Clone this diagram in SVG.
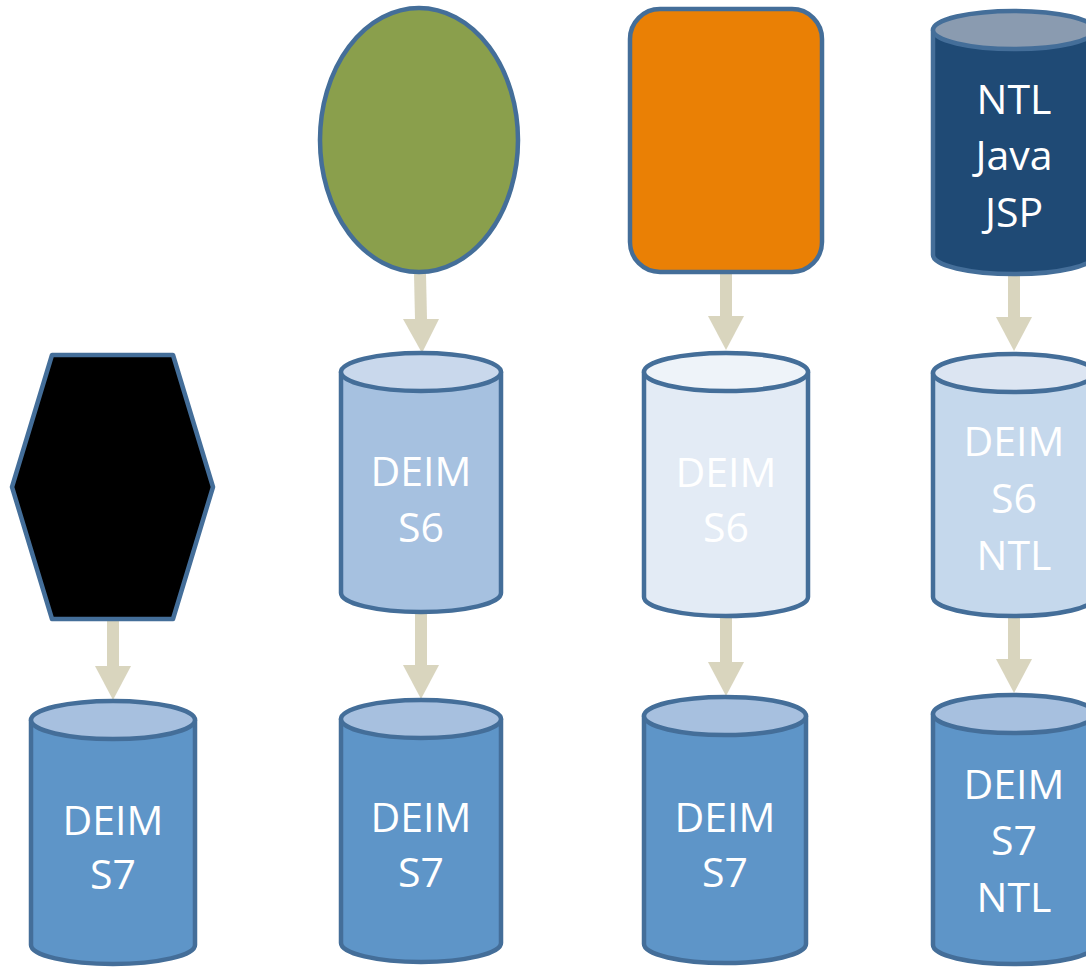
<svg xmlns="http://www.w3.org/2000/svg" width="1086" height="967" viewBox="0 0 1086 967">
  <defs>
    <style>
      .edge { stroke: #446E99; stroke-width: 4.5; stroke-linejoin: round; }
      .lbl { font-family: "Open Sans", "Liberation Sans", sans-serif; font-size: 41px; fill: #FFFFFF; text-anchor: middle; }
      .shaft { stroke: #D9D5BE; stroke-width: 12; fill: none; }
      .head { fill: #D9D5BE; }
    </style>
  </defs>
  <rect width="1086" height="967" fill="#FFFFFF"/>

  <!-- connectors -->
  <g id="connectors">
    <line class="shaft" x1="420" y1="273" x2="421" y2="320"/>
    <polygon class="head" points="403,319 439,319 422,353"/>
    <line class="shaft" x1="726" y1="273" x2="726" y2="317"/>
    <polygon class="head" points="708,316 744,316 726,350"/>
    <line class="shaft" x1="1014" y1="275" x2="1014" y2="318"/>
    <polygon class="head" points="996,317 1032,317 1014,351"/>
    <line class="shaft" x1="113" y1="620" x2="113" y2="667"/>
    <polygon class="head" points="95,666 131,666 113,700"/>
    <line class="shaft" x1="421" y1="613" x2="421" y2="666"/>
    <polygon class="head" points="403,665 439,665 421,699"/>
    <line class="shaft" x1="726" y1="617" x2="726" y2="663"/>
    <polygon class="head" points="708,662 744,662 726,696"/>
    <line class="shaft" x1="1014" y1="617" x2="1014" y2="660"/>
    <polygon class="head" points="996,659 1032,659 1014,693"/>
  </g>

  <!-- column 1 -->
  <g id="hexagon">
    <polygon class="edge" fill="#000000" points="52,355 173,355 213,487 173,619 52,619 12,487"/>
  </g>
  <g id="deim-s7-a">
    <path class="edge" fill="#5E95C8" d="M31,720 L31,945 A82,19 0 0 0 195,945 L195,720 Z"/>
    <ellipse class="edge" fill="#A7C0DF" cx="113" cy="720" rx="82" ry="19"/>
    <text class="lbl" x="113" y="835">DEIM</text>
    <text class="lbl" x="113" y="889">S7</text>
  </g>

  <!-- column 2 -->
  <g id="oval">
    <ellipse class="edge" fill="#8A9F4C" cx="419" cy="140" rx="99" ry="132"/>
  </g>
  <g id="deim-s6-a">
    <path class="edge" fill="#A6C1E0" d="M341,372 L341,593 A80,19 0 0 0 501,593 L501,372 Z"/>
    <ellipse class="edge" fill="#C9D8EC" cx="421" cy="372" rx="80" ry="19"/>
    <text class="lbl" x="421" y="486">DEIM</text>
    <text class="lbl" x="421" y="542">S6</text>
  </g>
  <g id="deim-s7-b">
    <path class="edge" fill="#5E95C8" d="M341,719 L341,943 A80,19 0 0 0 501,943 L501,719 Z"/>
    <ellipse class="edge" fill="#A7C0DF" cx="421" cy="719" rx="80" ry="19"/>
    <text class="lbl" x="421" y="832">DEIM</text>
    <text class="lbl" x="421" y="887">S7</text>
  </g>

  <!-- column 3 -->
  <g id="rounded-box">
    <rect class="edge" fill="#EA8005" x="630" y="9" width="192" height="263" rx="30" ry="30"/>
  </g>
  <g id="deim-s6-b">
    <path class="edge" fill="#E3EBF5" d="M644,372 L644,597 A82,19 0 0 0 808,597 L808,372 Z"/>
    <ellipse class="edge" fill="#EEF3F9" cx="726" cy="372" rx="82" ry="19"/>
    <text class="lbl" x="726" y="487">DEIM</text>
    <text class="lbl" x="726" y="542">S6</text>
  </g>
  <g id="deim-s7-c">
    <path class="edge" fill="#5E95C8" d="M644,716 L644,944 A81,19 0 0 0 806,944 L806,716 Z"/>
    <ellipse class="edge" fill="#A7C0DF" cx="725" cy="716" rx="81" ry="19"/>
    <text class="lbl" x="725" y="832">DEIM</text>
    <text class="lbl" x="725" y="887">S7</text>
  </g>

  <!-- column 4 -->
  <g id="ntl-java-jsp">
    <path class="edge" fill="#1F4A75" d="M933,30 L933,255 A81,19 0 0 0 1095,255 L1095,30 Z"/>
    <ellipse class="edge" fill="#8A9BB0" cx="1014" cy="30" rx="81" ry="19"/>
    <text class="lbl" x="1014" y="114">NTL</text>
    <text class="lbl" x="1014" y="170">Java</text>
    <text class="lbl" x="1014" y="227">JSP</text>
  </g>
  <g id="deim-s6-ntl">
    <path class="edge" fill="#C5D8EC" d="M933,373 L933,597 A81,19 0 0 0 1095,597 L1095,373 Z"/>
    <ellipse class="edge" fill="#DCE5F2" cx="1014" cy="373" rx="81" ry="19"/>
    <text class="lbl" x="1014" y="456">DEIM</text>
    <text class="lbl" x="1014" y="513">S6</text>
    <text class="lbl" x="1014" y="570">NTL</text>
  </g>
  <g id="deim-s7-ntl">
    <path class="edge" fill="#5E95C8" d="M933,714 L933,945 A81,19 0 0 0 1095,945 L1095,714 Z"/>
    <ellipse class="edge" fill="#A7C0DF" cx="1014" cy="714" rx="81" ry="19"/>
    <text class="lbl" x="1014" y="799">DEIM</text>
    <text class="lbl" x="1014" y="855">S7</text>
    <text class="lbl" x="1014" y="912">NTL</text>
  </g>
</svg>
